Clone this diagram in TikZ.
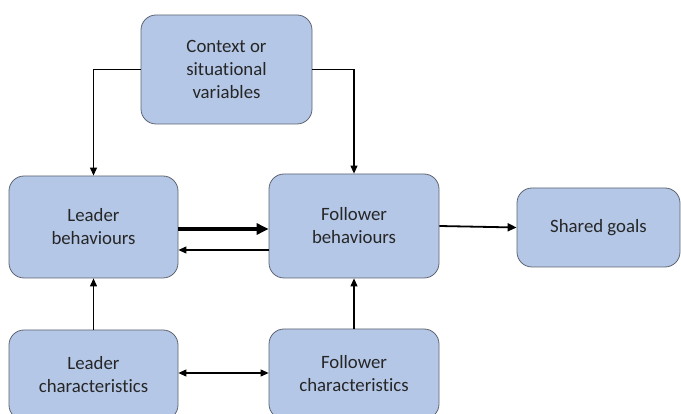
\documentclass[tikz,border=0pt]{standalone}
\usepackage{fontspec}
\setmainfont{Carlito}[Ligatures=NoCommon]
\usepackage{tikz}
\usetikzlibrary{arrows.meta,positioning}

\definecolor{boxfill}{HTML}{B4C7E7}
\definecolor{boxline}{HTML}{5E6470}

\tikzset{
  box/.style={draw=boxline, fill=boxfill, rounded corners=15pt, line width=0.8pt,
    align=center, font=\fontsize{18.8}{23}\selectfont, text=black!85},
  link/.style={-{Triangle[length=8pt,width=7pt]}, line width=1.1pt}
}

\begin{document}
\begin{tikzpicture}[x=1pt,y=-1pt]
    \useasboundingbox (0,0) rectangle (681,414);
    \clip (0,0) rectangle (681,414);

    \node[box, minimum width=171pt, minimum height=109pt] (ctx) at (226.5,69.5) {Context or\\situational\\variables};
    \node[box, minimum width=169pt, minimum height=102pt] (lb) at (93.5,227) {Leader\\behaviours};
    \node[box, minimum width=170pt, minimum height=104pt] (fb) at (354,226) {Follower\\behaviours};
    \node[box, minimum width=163pt, minimum height=79pt] (sg) at (598.5,227.5) {Shared goals};
    \node[box, minimum width=169pt, minimum height=90pt] (lc) at (93.5,375) {Leader\\characteristics};
    \node[box, minimum width=170pt, minimum height=90pt] (fc) at (354,374) {Follower\\characteristics};

    \draw[link] (ctx.west) -| (lb.north);
    \draw[link] (ctx.east) -| (fb.north);
    \draw[-{Triangle[length=12pt,width=11pt]}, line width=4pt] ([yshift=-2pt]lb.east) -- ([yshift=-3pt]fb.west);
    \draw[link] ([yshift=-24pt]fb.west) -- ([yshift=-23pt]lb.east);
    \draw[-{Triangle[length=9pt,width=8pt]}, line width=1.8pt] (fb.east) -- (sg.west);
    \draw[link] (lc.north) -- (lb.south);
    \draw[link] (fc.north) -- (fb.south);
    \draw[link, {Triangle[length=8pt,width=7pt]}-{Triangle[length=8pt,width=7pt]}] ([yshift=2pt]lc.east) -- ([yshift=1pt]fc.west);
\end{tikzpicture}
\end{document}
